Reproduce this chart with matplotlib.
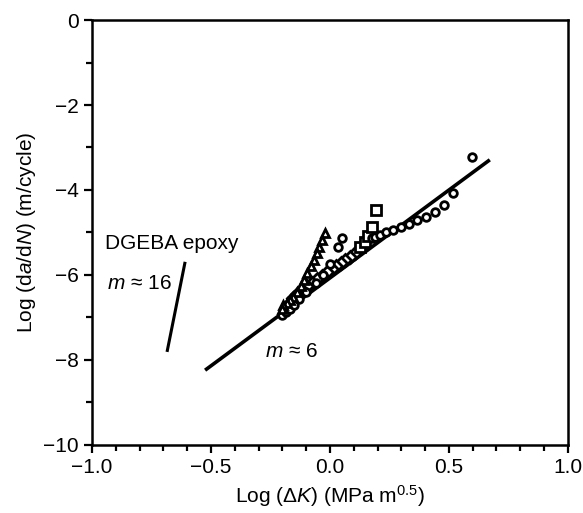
import numpy as np
import matplotlib
matplotlib.use('Agg')
import matplotlib.pyplot as plt
from matplotlib.ticker import MultipleLocator, FuncFormatter

plt.rcParams['font.family'] = ['Liberation Sans', 'DejaVu Sans']
plt.rcParams['mathtext.fontset'] = 'custom'
plt.rcParams['mathtext.rm'] = 'Liberation Sans'
plt.rcParams['mathtext.it'] = 'Liberation Sans:italic'

# fitted line m ~ 6 and reference slope m ~ 16
fit_x = [-0.525, 0.672]
fit_y = [-8.24, -3.29]
ref_x = [-0.685, -0.609]
ref_y = [-7.81, -5.69]

# triangles
tri_x = [-0.021, -0.035, -0.045, -0.056, -0.067, -0.081, -0.098, -0.109,
         -0.123, -0.140, -0.154, -0.168, -0.182, -0.196, -0.200]
tri_y = [-5.02, -5.18, -5.33, -5.49, -5.65, -5.80, -5.96, -6.12,
         -6.27, -6.39, -6.51, -6.59, -6.67, -6.71, -6.80]

# diamonds (chevron-like)
dia_x = [0.105, 0.084, 0.063, 0.045, 0.025, 0.007, -0.014, -0.035,
         -0.056, -0.077, -0.098, -0.119, -0.137, -0.154, -0.168, -0.182]
dia_y = [-5.49, -5.57, -5.65, -5.71, -5.79, -5.87, -5.94, -6.02,
         -6.10, -6.20, -6.27, -6.35, -6.45, -6.55, -6.65, -6.75]

# squares
sq_x = [0.126, 0.147, 0.161, 0.175, 0.193]
sq_y = [-5.33, -5.22, -5.08, -4.88, -4.47]

# circles, first set
c1_x = [-0.203, -0.185, -0.168, -0.150, -0.130, -0.100, -0.060, -0.030, 0.000, 0.035, 0.049]
c1_y = [-6.94, -6.87, -6.80, -6.70, -6.56, -6.40, -6.20, -6.00, -5.75, -5.33, -5.14]

# circles, second set
c2_x = [0.175, 0.189, 0.210, 0.235, 0.266, 0.297, 0.333, 0.364, 0.403, 0.441, 0.479, 0.518, 0.597]
c2_y = [-5.14, -5.10, -5.06, -5.00, -4.94, -4.88, -4.80, -4.71, -4.63, -4.51, -4.35, -4.08, -3.22]

fig = plt.figure(figsize=(5.83, 5.13), dpi=100)
ax = fig.add_axes([0.158, 0.1326, 0.816, 0.8284])

ax.plot(fit_x, fit_y, color='black', lw=2.6, solid_capstyle='butt')
ax.plot(ref_x, ref_y, color='black', lw=2.2, solid_capstyle='butt')

mk = dict(linestyle='none', mfc='white', mec='black', mew=2.0)
ax.plot(dia_x, dia_y, marker='D', ms=6, **mk)
ax.plot(sq_x, sq_y, marker='s', ms=7, **mk)
ax.plot(c1_x, c1_y, marker='o', ms=5.5, **mk)
ax.plot(c2_x, c2_y, marker='o', ms=5.5, **mk)
ax.plot(tri_x, tri_y, marker='^', ms=5.5, **mk)

ax.text(-0.946, -5.25, 'DGEBA epoxy', fontsize=15, va='center', ha='left')
ax.text(-0.937, -6.19, r'$m$ ≈ 16', fontsize=15, va='center', ha='left')
ax.text(-0.273, -7.79, r'$m$ ≈ 6', fontsize=15, va='center', ha='left')

ax.set_xlim(-1.0, 1.0)
ax.set_ylim(-10, 0)
ax.xaxis.set_major_locator(MultipleLocator(0.5))
ax.xaxis.set_minor_locator(MultipleLocator(0.1))
ax.yaxis.set_major_locator(MultipleLocator(2))
ax.yaxis.set_minor_locator(MultipleLocator(1))
ax.xaxis.set_major_formatter(FuncFormatter(lambda v, p: ('%.1f' % v).replace('-', '\u2212')))

ax.tick_params(which='both', direction='out', width=1.6, labelsize=15)
ax.tick_params(which='major', length=6)
ax.tick_params(which='minor', length=4)
for s in ax.spines.values():
    s.set_linewidth(1.8)

ax.set_xlabel(r'Log ($\Delta\mathit{K}$) (MPa m$^{0.5}$)', fontsize=15)
ax.set_ylabel(r'Log (d$\mathit{a}$/d$\mathit{N}$) (m/cycle)', fontsize=15)

fig.savefig('out.png', dpi=100)
